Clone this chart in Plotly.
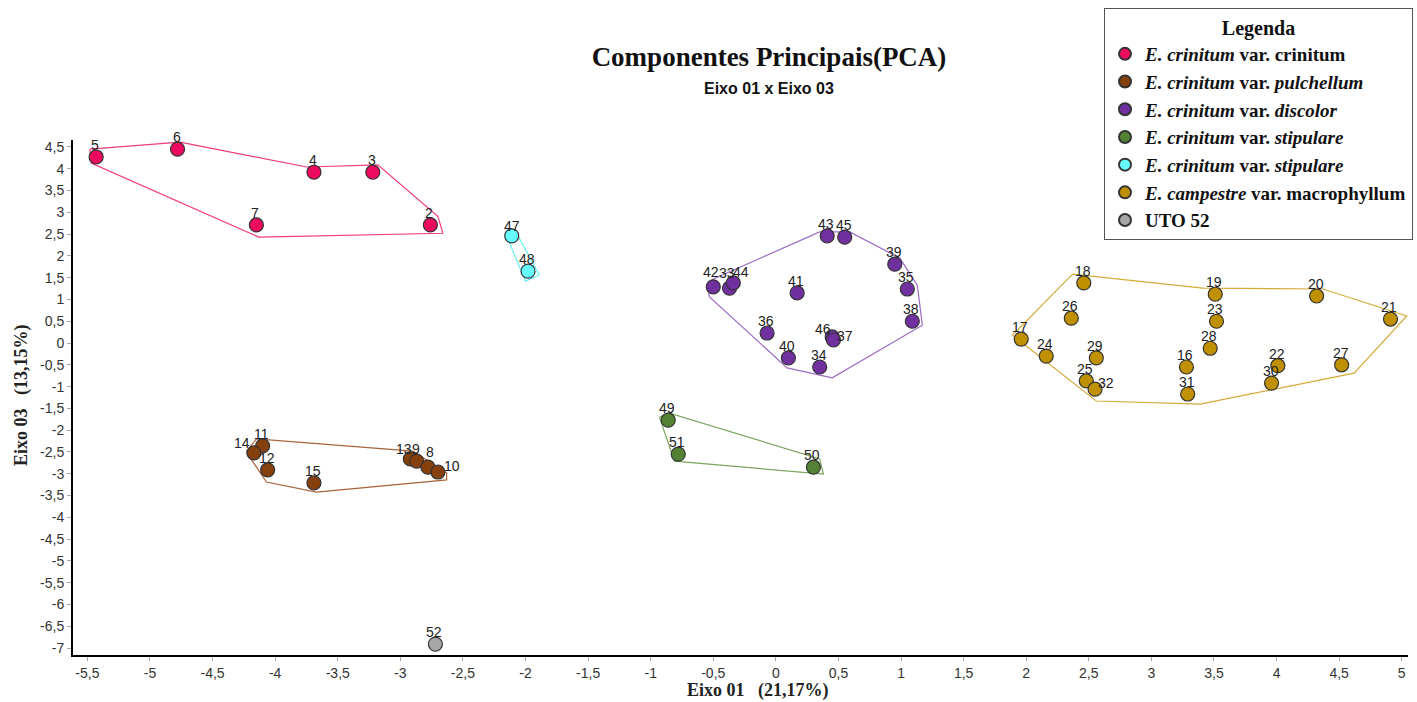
import plotly.graph_objects as go

# ---- data (PCA scores, Eixo 01 x Eixo 03) ----
crinitum_id = ["5", "6", "4", "3", "7", "2"]
crinitum_x = [-5.43, -4.78, -3.69, -3.22, -4.15, -2.76]
crinitum_y = [4.27, 4.45, 3.92, 3.92, 2.71, 2.71]
crinitum_hull_x = [-5.48, -4.76, -3.75, -3.18, -2.70, -2.66, -4.13, -5.47]
crinitum_hull_y = [4.45, 4.61, 4.04, 4.09, 2.91, 2.52, 2.43, 4.13]

pulch_id = ["11", "14", "12", "15", "13", "9", "8", "10"]
pulch_x = [-4.10, -4.17, -4.06, -3.69, -2.92, -2.87, -2.78, -2.70]
pulch_y = [-2.36, -2.52, -2.91, -3.21, -2.66, -2.71, -2.85, -2.96]
pulch_hull_x = [-4.23, -4.15, -2.90, -2.63, -2.63, -3.67, -4.07]
pulch_hull_y = [-2.50, -2.20, -2.48, -2.98, -3.14, -3.42, -3.19]

disc_id = ["43", "45", "39", "35", "38", "42", "33", "44", "41", "36", "46", "37", "40", "34"]
disc_x = [0.41, 0.55, 0.95, 1.05, 1.09, -0.50, -0.37, -0.34, 0.17, -0.07, 0.45, 0.46, 0.10, 0.35]
disc_y = [2.46, 2.43, 1.81, 1.24, 0.50, 1.29, 1.26, 1.38, 1.15, 0.23, 0.14, 0.07, -0.34, -0.55]
disc_hull_x = [-0.55, -0.50, 0.35, 0.59, 0.99, 1.13, 1.17, 0.45, 0.09, -0.53]
disc_hull_y = [1.33, 1.47, 2.55, 2.55, 1.95, 1.33, 0.41, -0.80, -0.57, 1.06]

stip_id = ["49", "51", "50"]
stip_x = [-0.86, -0.78, 0.30]
stip_y = [-1.77, -2.55, -2.85]
stip_hull_x = [-0.93, -0.85, 0.35, 0.38, -0.81]
stip_hull_y = [-1.70, -1.61, -2.66, -3.01, -2.71]

stip2_id = ["47", "48"]
stip2_x = [-2.11, -1.98]
stip2_y = [2.46, 1.65]
stip2_hull_x = [-2.16, -2.08, -1.89, -2.00]
stip2_hull_y = [2.52, 2.57, 1.56, 1.42]

camp_id = ["18", "19", "20", "21", "26", "23", "17", "28", "24", "29", "16", "22", "27", "25", "32", "31", "30"]
camp_x = [2.46, 3.51, 4.32, 4.91, 2.36, 3.52, 1.96, 3.47, 2.16, 2.56, 3.28, 4.01, 4.52, 2.48, 2.55, 3.29, 3.96]
camp_y = [1.38, 1.12, 1.08, 0.55, 0.57, 0.50, 0.09, -0.12, -0.30, -0.34, -0.55, -0.52, -0.50, -0.87, -1.06, -1.17, -0.92]
camp_hull_x = [2.37, 3.41, 4.37, 5.04, 4.62, 3.39, 2.56, 1.89]
camp_hull_y = [1.58, 1.26, 1.24, 0.62, -0.69, -1.40, -1.33, 0.18]

uto_id = ["52"]
uto_x = [-2.72]
uto_y = [-6.91]

x_ticks = [-5.5, -5, -4.5, -4, -3.5, -3, -2.5, -2, -1.5, -1, -0.5, 0, 0.5, 1, 1.5, 2, 2.5, 3, 3.5, 4, 4.5, 5]
y_ticks = [4.5, 4, 3.5, 3, 2.5, 2, 1.5, 1, 0.5, 0, -0.5, -1, -1.5, -2, -2.5, -3, -3.5, -4, -4.5, -5, -5.5, -6, -6.5, -7]


def fmt(v):
    return ("%g" % v).replace(".", ",")


# label pixel offsets (styling): default (-1, 12)
label_shift = {
    "44": (8, 11), "37": (12, 4), "32": (11, 6), "10": (14, 6),
    "14": (-12, 10), "46": (-9, 8), "13": (-6, 10), "8": (2, 15),
    "42": (-2, 15), "33": (-3, 15), "47": (0, 10),
}

groups = [
    ("<i>E. crinitum</i> var. crinitum", crinitum_id, crinitum_x, crinitum_y,
     crinitum_hull_x, crinitum_hull_y, "#EC0A5E", "#F23A7E"),
    ("<i>E. crinitum</i> var. <i>pulchellum</i>", pulch_id, pulch_x, pulch_y,
     pulch_hull_x, pulch_hull_y, "#86400E", "#A9643A"),
    ("<i>E. crinitum</i> var. <i>discolor</i>", disc_id, disc_x, disc_y,
     disc_hull_x, disc_hull_y, "#7030A0", "#9A6CC4"),
    ("<i>E. crinitum</i> var. <i>stipulare</i>", stip_id, stip_x, stip_y,
     stip_hull_x, stip_hull_y, "#548235", "#7AA560"),
    ("<i>E. crinitum</i> var. <i>stipulare</i>", stip2_id, stip2_x, stip2_y,
     stip2_hull_x, stip2_hull_y, "#66FFFF", "#66F0F0"),
    ("<i>E. campestre</i> var. macrophyllum", camp_id, camp_x, camp_y,
     camp_hull_x, camp_hull_y, "#BF9000", "#D4AA3A"),
    ("UTO 52", uto_id, uto_x, uto_y, None, None, "#A6A6A6", None),
]

fig = go.Figure()

for name, ids, xs, ys, hx, hy, col, hcol in groups:
    if hx is None:
        continue
    fig.add_trace(go.Scatter(
        x=hx + [hx[0]], y=hy + [hy[0]], mode="lines",
        line=dict(color=hcol, width=1.2), showlegend=False, hoverinfo="skip"))

annotations = []
for name, ids, xs, ys, hx, hy, col, hcol in groups:
    fig.add_trace(go.Scatter(
        x=xs, y=ys, mode="markers", name=name, text=ids,
        marker=dict(size=14, color=col, line=dict(color="#333333", width=1.2)),
    ))
    for i, xv, yv in zip(ids, xs, ys):
        dx, dy = label_shift.get(i, (-1, 12))
        annotations.append(dict(
            x=xv, y=yv, xref="x", yref="y", text=i, showarrow=False,
            xanchor="center", yanchor="middle", xshift=dx, yshift=dy,
            font=dict(family="Liberation Sans, Arial", size=14, color="#222222")))

serif = "Liberation Serif, Times New Roman"
sans = "Liberation Sans, Arial"

annotations += [
    dict(text="<b>Eixo 01 x Eixo 03</b>", xref="paper", yref="paper",
         x=(769 - 73) / 1335, y=(655 - 89) / 515, xanchor="center", yanchor="middle",
         showarrow=False, font=dict(family=sans, size=16, color="#111111")),
    dict(text="<b>Eixo 01   (21,17%)</b>", xref="paper", yref="paper",
         x=(758 - 73) / 1335, y=(655 - 690) / 515, xanchor="center", yanchor="middle",
         showarrow=False, font=dict(family=serif, size=18, color="#222222")),
    dict(text="<b>Eixo 03   (13,15%)</b>", xref="paper", yref="paper", textangle=-90,
         x=(21 - 73) / 1335, y=(655 - 395) / 515, xanchor="center", yanchor="middle",
         showarrow=False, font=dict(family=serif, size=18, color="#222222")),
]

axis_common = dict(showgrid=False, zeroline=False, showline=True, linecolor="black",
                   linewidth=2, ticks="outside", ticklen=4, tickcolor="#aaaaaa",
                   automargin=False,
                   tickfont=dict(family=sans, size=14, color="#333333"))

fig.update_layout(
    width=1417, height=702,
    margin=dict(l=73, r=9, t=140, b=47, autoexpand=False),
    plot_bgcolor="white", paper_bgcolor="white",
    title=dict(text="<b>Componentes Principais(PCA)</b>", x=769 / 1417, xanchor="center",
               y=1 - 57 / 702, yanchor="middle", automargin=False,
               font=dict(family=serif, size=27, color="#111111")),
    xaxis=dict(range=[-5.615, 5.05], tickmode="array", tickvals=x_ticks,
               ticktext=[fmt(v) for v in x_ticks], **axis_common),
    yaxis=dict(range=[-7.16, 4.66], tickmode="array", tickvals=y_ticks,
               ticktext=[fmt(v) for v in y_ticks], **axis_common),
    legend=dict(x=(1413 - 73) / 1335, xanchor="right", y=(655 - 8) / 515, yanchor="top",
                bgcolor="white", bordercolor="#555555", borderwidth=1,
                font=dict(family=serif, size=19, color="#111111", weight="bold"),
                title=dict(text="<b>Legenda</b>", side="top center",
                           font=dict(family=serif, size=20, color="#111111")),
                itemsizing="constant", tracegroupgap=0, itemwidth=30),
    annotations=annotations,
)

fig.write_html("out.html", config={"displayModeBar": False},
               post_script="document.body.style.margin='0';")
